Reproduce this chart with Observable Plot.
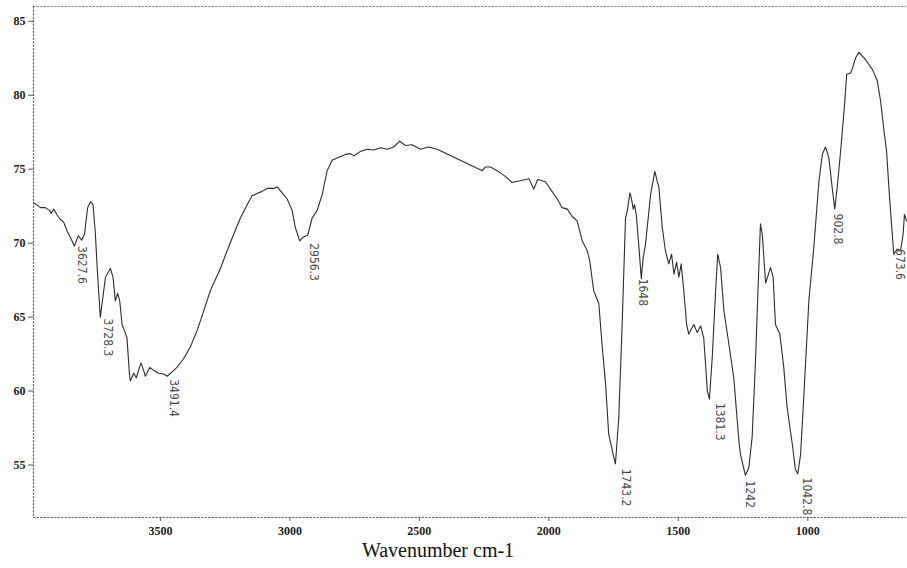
<!DOCTYPE html>
<html>
<head>
<meta charset="utf-8">
<script src="https://cdn.jsdelivr.net/npm/d3@7"></script>
<script src="https://cdn.jsdelivr.net/npm/@observablehq/plot@0.6"></script>
<style>
  body { margin: 0; background: #fff; }
  #chart { width: 907px; }
  .caption {
    font-family: "Liberation Serif", "Times New Roman", serif;
    font-size: 20px; line-height: 20px; height: 28px;
    width: 876px; text-align: center; color: #111;
  }
</style>
</head>
<body>
<div id="chart"></div>
<div class="caption">Wavenumber cm-1</div>
<script>
// Spectrum (wavenumber cm-1, transmittance %)
const wavenumber = [3986,3963,3944,3927,3922,3912,3899,3886,3873,3860,3845,3832,3817,3804,3793,3781,3770,3760,3751,3743,3732,3712,3693,3683,3674,3665,3657,3648,3635,3629,3619,3616,3603,3593,3575,3565,3558,3541,3526,3507,3487,3474,3455,3436,3410,3384,3358,3333,3307,3268,3242,3217,3191,3165,3146,3127,3107,3088,3062,3049,3030,3011,2991,2979,2962,2949,2931,2914,2895,2875,2856,2837,2811,2785,2766,2753,2728,2702,2676,2650,2624,2599,2576,2554,2528,2496,2464,2431,2257,2245,2225,2200,2167,2142,2116,2077,2058,2043,2013,1994,1968,1949,1929,1910,1891,1871,1852,1842,1827,1807,1794,1781,1769,1749,1743,1730,1717,1704,1697,1687,1682,1674,1669,1662,1653,1643,1636,1627,1607,1591,1575,1562,1550,1543,1537,1526,1517,1507,1498,1489,1479,1468,1460,1440,1427,1414,1402,1388,1380,1369,1356,1348,1337,1324,1305,1286,1266,1260,1241,1228,1215,1202,1193,1183,1176,1163,1144,1134,1125,1108,1093,1080,1060,1048,1039,1028,1015,996,977,957,944,932,919,906,896,884,871,858,850,835,828,816,803,777,751,732,719,706,696,687,674,668,655,642,632,627,619];
const transmittance = [72.7,72.4,72.4,72.2,72.0,72.3,71.9,71.6,71.4,70.8,70.3,69.8,70.5,70.2,70.6,72.4,72.8,72.6,70.6,68.0,65.0,67.7,68.3,67.7,66.1,66.6,66.1,64.5,63.9,63.6,61.0,60.7,61.2,60.9,61.9,61.4,61.0,61.6,61.4,61.2,61.15,61.0,61.3,61.6,62.2,63.0,64.1,65.4,66.8,68.3,69.5,70.6,71.7,72.6,73.2,73.35,73.5,73.7,73.7,73.8,73.4,73.0,72.2,71.05,70.15,70.4,70.55,71.7,72.2,73.3,74.9,75.6,75.8,76.0,76.05,75.9,76.2,76.35,76.3,76.45,76.35,76.5,76.9,76.6,76.65,76.35,76.5,76.35,74.9,75.15,75.15,74.9,74.5,74.1,74.2,74.35,73.65,74.3,74.15,73.65,73.0,72.4,72.3,71.8,71.5,70.15,69.5,68.8,66.8,65.9,63.0,60.5,57.1,55.5,55.07,58.2,64.5,71.7,72.2,73.4,73.1,72.3,72.6,71.85,69.9,67.6,69.0,69.9,73.3,74.85,73.75,71.05,69.5,69.0,68.6,69.25,67.9,68.7,67.7,68.6,66.8,64.5,63.85,64.5,63.95,64.4,63.6,60.0,59.45,62.3,66.8,69.25,68.35,65.4,63.2,60.9,56.6,55.7,54.3,54.8,56.9,62.05,66.55,71.3,70.6,67.3,68.35,67.7,64.5,63.85,61.6,58.9,56.4,54.7,54.4,55.7,59.8,66.1,69.7,74.2,76.0,76.5,75.8,73.75,72.3,74.2,76.7,79.4,81.4,81.5,81.8,82.5,82.9,82.4,81.75,81.0,79.6,77.6,76.25,73.75,70.6,69.25,69.6,69.5,70.6,71.95,71.5];

// Axis ticks
const xTicks = [3500, 3000, 2500, 2000, 1500, 1000];
const yTicks = [55, 60, 65, 70, 75, 80, 85];

// Peak annotations: printed text and where it is printed (wavenumber, transmittance)
const peakText = ["3627.6", "3728.3", "3491.4", "2956.3", "1743.2", "1648", "1381.3", "1242", "1042.8", "902.8", "673.6"];
const peakWn   = [3802, 3704, 3450, 2909, 1704, 1638, 1341, 1225, 1002, 884, 646];
const peakT    = [69.8, 64.9, 60.8, 70.0, 54.75, 67.6, 59.2, 53.95, 54.15, 72.0, 69.6];

const xDomain = [3990, 619];
const yDomain = [51.45, 86];

const spectrum = wavenumber.map((w, i) => ({ w, t: transmittance[i] }));
const peaks = peakText.map((s, i) => ({ s, w: peakWn[i], t: peakT[i] }));

const frameStyle = { stroke: "#6a6a6a", strokeWidth: 1.2, strokeDasharray: "2.5,1" };
const tickFont = { fontFamily: "Liberation Serif", fontWeight: "bold", fontSize: 12, fill: "#222" };
const blank = () => "";

const chart = Plot.plot({
  width: 907,
  height: 540,
  marginLeft: 33,
  marginRight: 1,
  marginTop: 6,
  marginBottom: 23,
  style: { background: "#fff", color: "#222" },
  x: { domain: xDomain, label: null, axis: null },
  y: { domain: yDomain, label: null, axis: null },
  marks: [
    Plot.ruleY([yDomain[1]], { ...frameStyle, stroke: "#8a8a8a" }),
    Plot.ruleY([yDomain[0]], frameStyle),
    Plot.ruleX([xDomain[0]], frameStyle),
    Plot.axisX(xTicks, { tickSize: 4, tickPadding: 3, label: null, stroke: "#555", tickFormat: blank }),
    Plot.axisY(yTicks, { tickSize: 5, tickPadding: 2, label: null, stroke: "#555", tickFormat: blank }),
    Plot.text(xTicks, { x: d => d, y: yDomain[0], dy: 14, text: d => String(d), ...tickFont }),
    Plot.text(yTicks, { x: xDomain[0], y: d => d, dx: -8, textAnchor: "end", text: d => String(d), ...tickFont }),
    Plot.line(spectrum, { x: "w", y: "t", stroke: "#2c2c2c", strokeWidth: 1.1 }),
    Plot.text(peaks, {
      x: "w", y: "t", text: "s", rotate: 90, textAnchor: "start",
      fontFamily: "DejaVu Sans Condensed, Liberation Sans Narrow, sans-serif",
      fontSize: 12, fill: "#4a4a4a"
    })
  ]
});
document.getElementById("chart").appendChild(chart);
</script>
</body>
</html>
